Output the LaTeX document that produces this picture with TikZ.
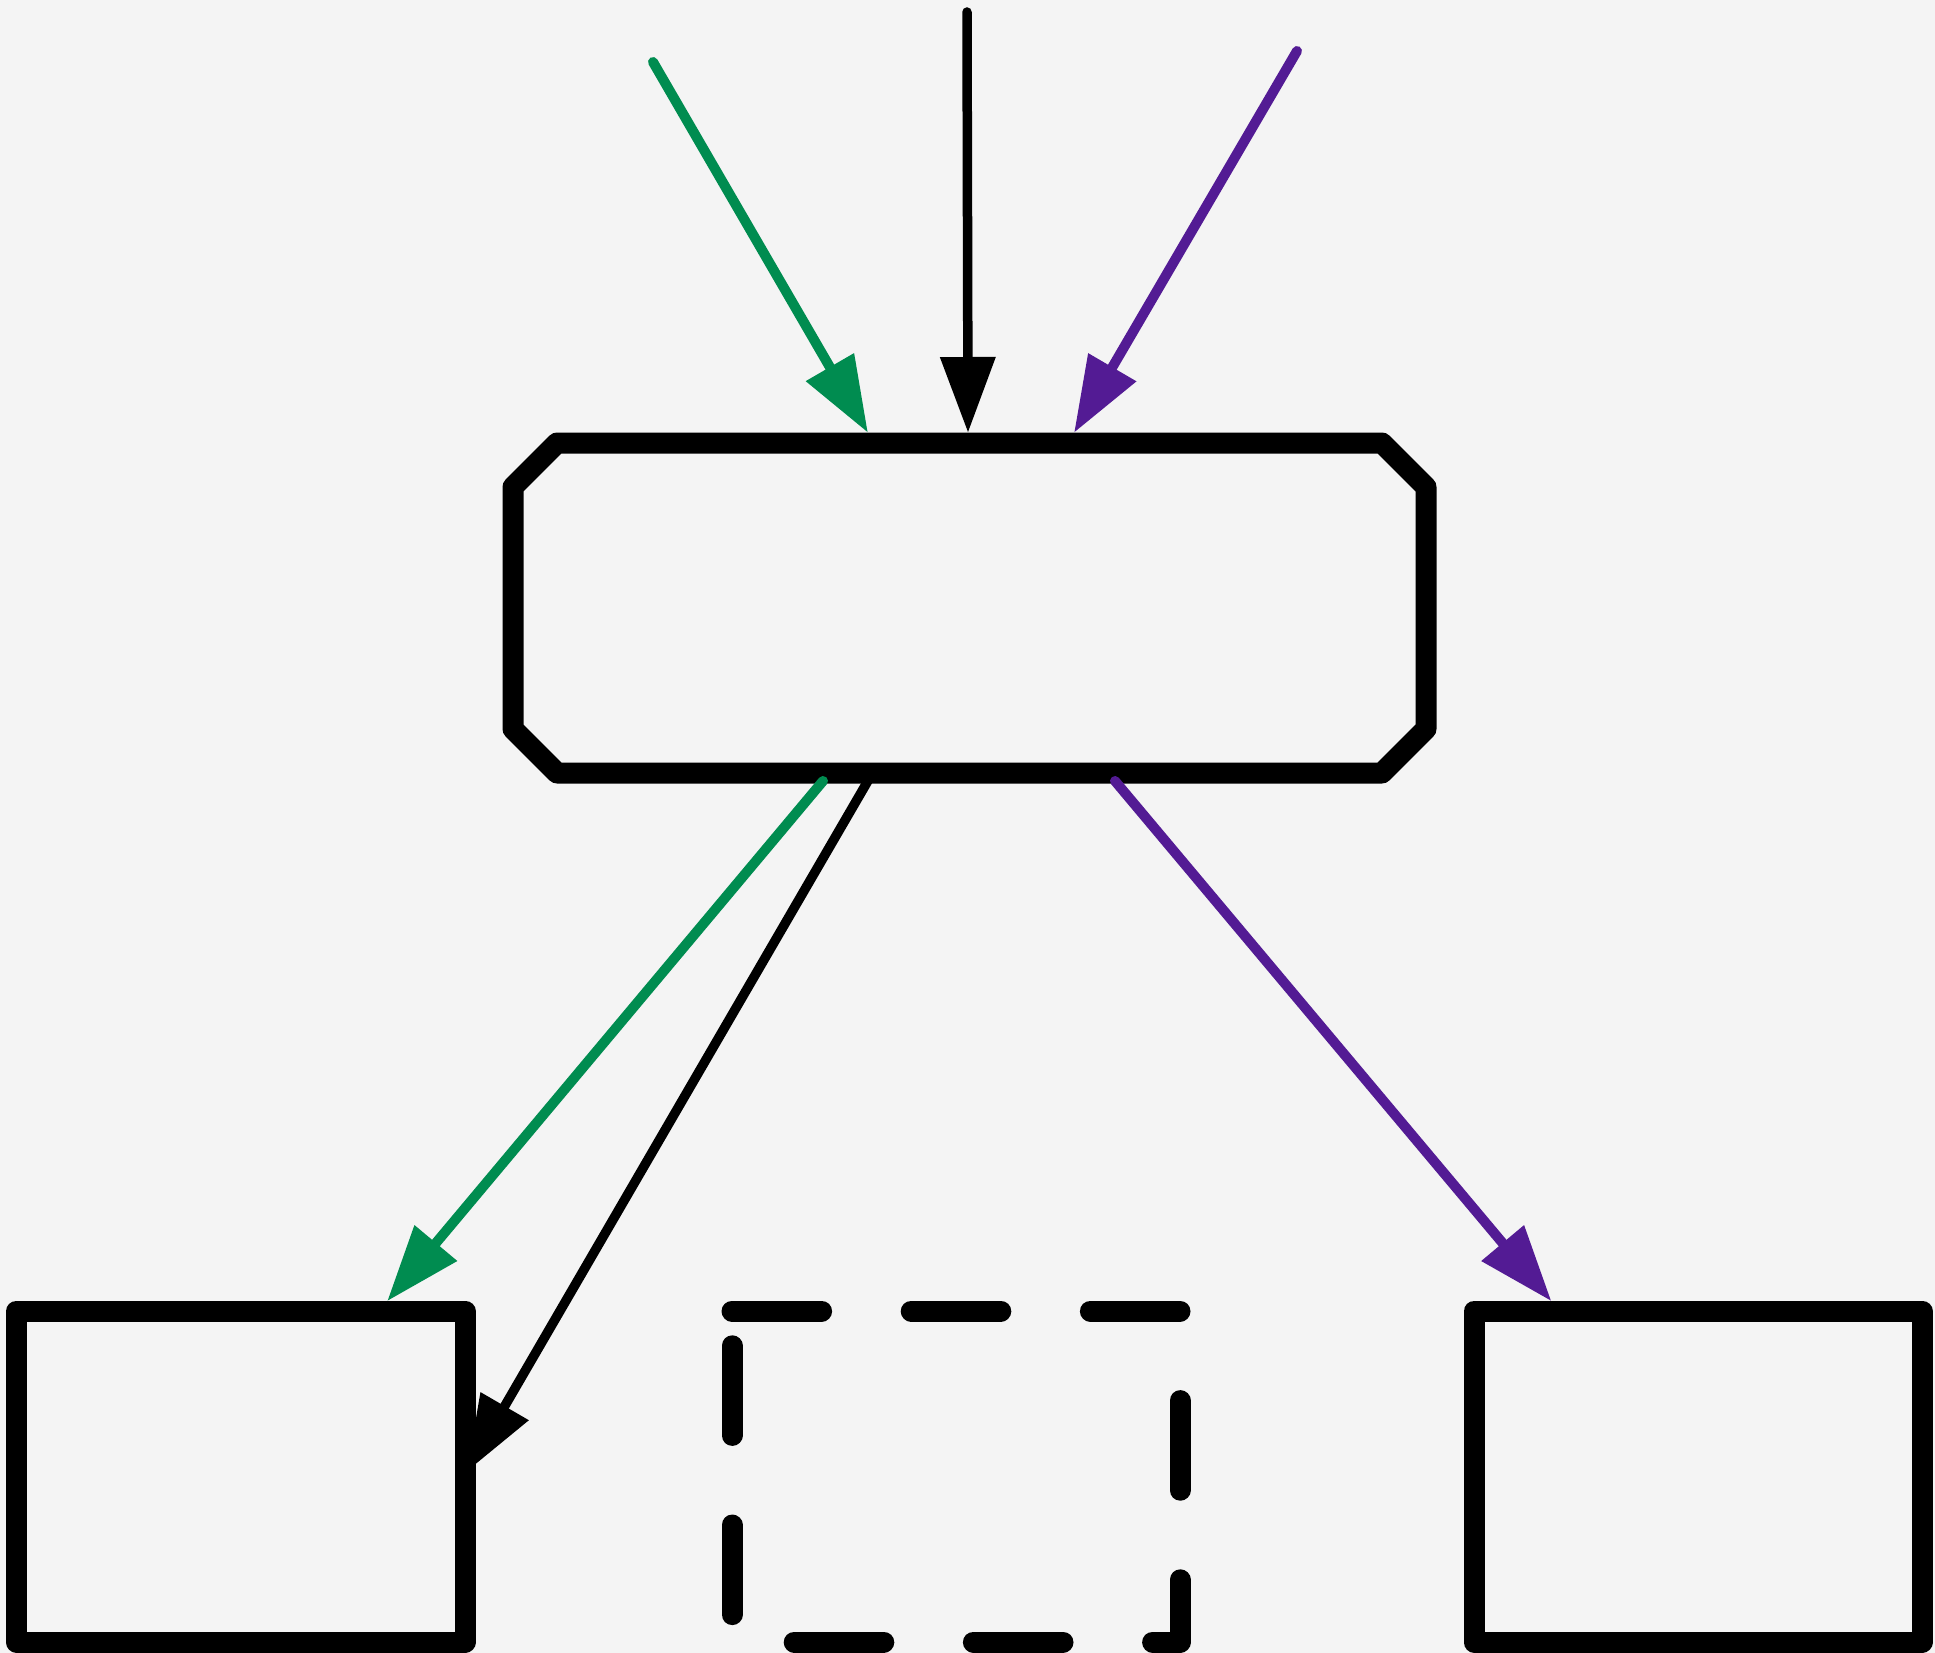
\documentclass[tikz,border=0pt]{standalone}
\usetikzlibrary{arrows.meta,calc}
\definecolor{bg}{RGB}{244,244,244}
\definecolor{cgreen}{RGB}{0,140,80}
\definecolor{cpurple}{RGB}{83,27,148}
\begin{document}
\begin{tikzpicture}[x=1pt,y=-1pt,
  boxline/.style={line width=21pt, line join=round},
  panel/.style={draw, boxline, minimum width=448pt, minimum height=331pt, inner sep=0pt},
  ghost/.style={draw=none, inner sep=0pt, outer sep=0pt},
  dashbox/.style={boxline, line cap=round, dash pattern=on 89.6pt off 89.6pt},
  tipend/.style={-{Triangle[length=75pt,width=56pt,line width=0pt]}},
  conn/.style={line width=10pt, line cap=round, tipend},
  garrow/.style={conn, cgreen},
  parrow/.style={conn, cpurple},
  karrow/.style={conn, black, line width=9.5pt}
]
\useasboundingbox (0,0) rectangle (1935,1653);
\fill[bg] (0,0) rectangle (1935,1653);

% nodes
\node[ghost, minimum width=913pt, minimum height=330pt] (hub) at (969.5,608) {};
\node[ghost, minimum width=448pt, minimum height=331pt] (dbox) at (956,1476.5) {};

% connector drawn behind the boxes
\draw[karrow] ([xshift=-97pt]hub.south) -- (467,1471) coordinate (ktip);

% octagonal hub
\draw[boxline] ([xshift=44pt]hub.north west) -- ([xshift=-44pt]hub.north east)
  -- ([yshift=-44pt]hub.north east) -- ([yshift=44pt]hub.south east)
  -- ([xshift=-44pt]hub.south east) -- ([xshift=44pt]hub.south west)
  -- ([yshift=44pt]hub.south west) -- ([yshift=-44pt]hub.north west) -- cycle;

\node[panel, minimum width=448.5pt] (lbox) at (240.75,1476.5) {};
\node[panel] (rbox) at (1698,1476.5) {};
\draw[dashbox] (dbox.north west) -- (dbox.north east) -- (dbox.south east) -- (dbox.south west) -- cycle;

% incoming connectors
\coordinate (gsrc) at (653,62);
\coordinate (ksrc) at (967,12);
\coordinate (psrc) at (1297,51);
\draw[garrow] (gsrc) -- ([xshift=-102pt,yshift=11pt]hub.north);
\draw[karrow] (ksrc) -- ([xshift=-1.5pt,yshift=11pt]hub.north);
\draw[parrow] (psrc) -- ([xshift=105pt,yshift=11pt]hub.north);

% outgoing connectors
\draw[garrow] ([xshift=-146.5pt,yshift=-8pt]hub.south) -- (lbox);
\draw[parrow] ([xshift=145.5pt,yshift=-8pt]hub.south) -- (rbox);
\end{tikzpicture}
\end{document}
